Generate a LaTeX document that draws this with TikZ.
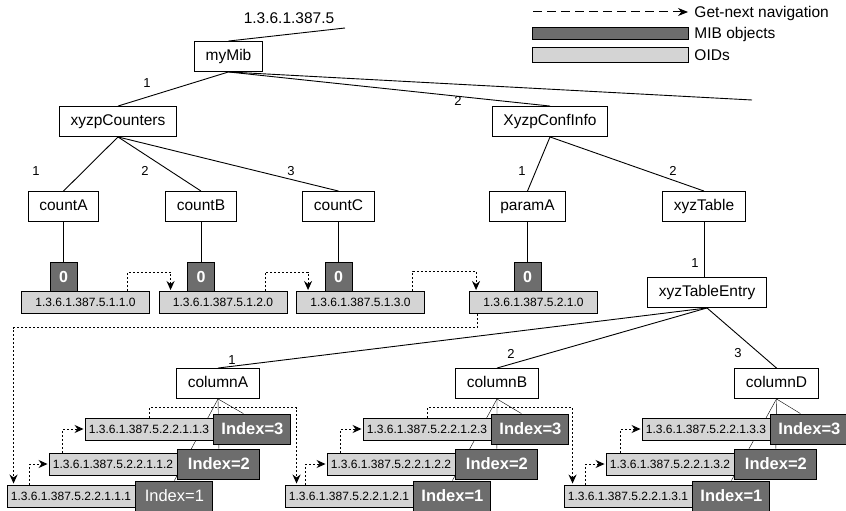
\documentclass[tikz,border=0pt]{standalone}
\usepackage{fontspec}
\setmainfont{Liberation Sans}
\usetikzlibrary{arrows.meta,backgrounds}
\definecolor{mibDark}{HTML}{6D6D6D}
\definecolor{oidLight}{HTML}{D4D4D4}

\begin{document}
\begin{tikzpicture}[x=1pt,y=-1pt,line width=0.9pt,
  tree/.style={draw,fill=white,inner xsep=11pt,minimum height=30pt,text height=11pt,text depth=3.5pt,font=\fontsize{15.5}{17}\selectfont},
  oid/.style={draw,fill=oidLight,minimum width=128pt,minimum height=22pt,inner sep=0pt,text height=8.6pt,text depth=0pt,font=\fontsize{12}{14}\selectfont},
  zero/.style={draw,fill=mibDark,text=white,minimum width=27pt,minimum height=29pt,inner sep=0pt,font=\fontsize{16}{18}\selectfont\bfseries},
  idx/.style={draw,fill=mibDark,text=white,minimum width=77pt,minimum height=30pt,inner sep=0pt,text height=11.8pt,text depth=0pt,font=\fontsize{16.5}{18}\selectfont\bfseries},
  lbl/.style={inner sep=0pt,font=\fontsize{13}{15}\selectfont},
  legtxt/.style={inner sep=0pt,anchor=base west,font=\fontsize{15.5}{17}\selectfont},
  nav/.style={line width=1pt,dash pattern=on 2pt off 2pt,shorten >=1pt,-{Stealth[length=9pt,width=8pt]}},
  legnav/.style={line width=1pt,dash pattern=on 9pt off 5pt,-{Stealth[length=10pt,width=8pt]}}]
\useasboundingbox (0,0) rectangle (846,511);

\coordinate (legA) at (533,12);
\coordinate (legB) at (688,12);
\draw[legnav] (legA) -- (legB);
\node[legtxt] (legNavTxt) at (694,17.5) {Get-next navigation};
\node[draw,fill=mibDark,minimum width=156pt,minimum height=12pt,inner sep=0pt] (legMib) at (610,33) {};
\node[legtxt] (legMibTxt) at (694,38.5) {MIB objects};
\node[draw,fill=oidLight,minimum width=156pt,minimum height=15pt,inner sep=0pt] (legOid) at (610,54.5) {};
\node[legtxt] (legOidTxt) at (694,61) {OIDs};

\node[tree] (myMib) at (228.5,56.5) {myMib};
\node[inner sep=0pt,font=\fontsize{15.5}{17}\selectfont] (rootOid) at (289,18) {1.3.6.1.387.5};
\coordinate (rootEnd) at (345,28);
\coordinate (moreEnd) at (752,100);
\node[tree] (xyzpCounters) at (118,121.5) {xyzpCounters};
\node[tree] (XyzpConfInfo) at (550,121.5) {XyzpConfInfo};
\node[tree] (countA) at (63.5,206.5) {countA};
\node[tree] (countB) at (201,206.5) {countB};
\node[tree] (countC) at (338.5,206.5) {countC};
\node[tree] (paramA) at (527.5,206.5) {paramA};
\node[tree] (xyzTable) at (704,206.5) {xyzTable};
\node[tree] (xyzTableEntry) at (707,292.5) {xyzTableEntry};
\node[tree] (columnA) at (218,383.5) {columnA};
\node[tree] (columnB) at (497,383.5) {columnB};
\node[tree] (columnD) at (776.5,383.5) {columnD};

\draw (myMib.north) -- (rootEnd);
\draw (myMib.south) -- (xyzpCounters.north);
\draw (myMib.south) -- (XyzpConfInfo.north);
\draw (myMib.south) -- (moreEnd);
\draw (xyzpCounters.south) -- (countA.north);
\draw (xyzpCounters.south) -- (countB.north);
\draw (xyzpCounters.south) -- (countC.north);
\draw (XyzpConfInfo.south) -- (paramA.north);
\draw (XyzpConfInfo.south) -- (xyzTable.north);
\draw (xyzTable.south) -- (xyzTable.south |- xyzTableEntry.north);
\draw (xyzTableEntry.south) -- (columnA.north);
\draw (xyzTableEntry.south) -- (columnB.north);
\draw (xyzTableEntry.south) -- (columnD.north);

\node[lbl] (l1) at (147,83) {1};
\node[lbl] (l2) at (458,101) {2};
\node[lbl] (lA) at (36,171) {1};
\node[lbl] (lB) at (145,171) {2};
\node[lbl] (lC) at (291,171) {3};
\node[lbl] (lP) at (522,171) {1};
\node[lbl] (lT) at (673,171) {2};
\node[lbl] (lE) at (695,263) {1};
\node[lbl] (lcA) at (232,360) {1};
\node[lbl] (lcB) at (511,354) {2};
\node[lbl] (lcD) at (738,353) {3};

\node[oid] (o0A) at (85.5,302.5) {1.3.6.1.387.5.1.1.0};
\node[oid] (o0B) at (223,302.5) {1.3.6.1.387.5.1.2.0};
\node[oid] (o0C) at (360.5,302.5) {1.3.6.1.387.5.1.3.0};
\node[oid] (o0P) at (533.5,302.5) {1.3.6.1.387.5.2.1.0};
\node[zero,anchor=south] (zA) at (63.5,292) {0};
\node[zero,anchor=south] (zB) at (201,292) {0};
\node[zero,anchor=south] (zC) at (338.5,292) {0};
\node[zero,anchor=south] (zP) at (527.5,292) {0};
\draw (countA.south) -- (zA.north);
\draw (countB.south) -- (zB.north);
\draw (countC.south) -- (zC.north);
\draw (paramA.south) -- (zP.north);

\node[oid] (oA3) at (149,429) {1.3.6.1.387.5.2.2.1.1.3};
\node[idx,anchor=west] (iA3) at (oA3.east) {Index=3};
\node[oid] (oA2) at (113,464) {1.3.6.1.387.5.2.2.1.1.2};
\node[idx,anchor=west,minimum width=82pt] (iA2) at (oA2.east) {Index=2};
\node[oid] (oA1) at (71,496) {1.3.6.1.387.5.2.2.1.1.1};
\node[idx,anchor=west,font=\fontsize{16.5}{18}\selectfont] (iA1) at (oA1.east) {Index=1};

\node[oid] (oB3) at (427,429) {1.3.6.1.387.5.2.2.1.2.3};
\node[idx,anchor=west] (iB3) at (oB3.east) {Index=3};
\node[oid] (oB2) at (391,464) {1.3.6.1.387.5.2.2.1.2.2};
\node[idx,anchor=west,minimum width=82pt] (iB2) at (oB2.east) {Index=2};
\node[oid] (oB1) at (349,496) {1.3.6.1.387.5.2.2.1.2.1};
\node[idx,anchor=west] (iB1) at (oB1.east) {Index=1};

\node[oid] (oD3) at (706,429) {1.3.6.1.387.5.2.2.1.3.3};
\node[idx,anchor=west] (iD3) at (oD3.east) {Index=3};
\node[oid] (oD2) at (670,464) {1.3.6.1.387.5.2.2.1.3.2};
\node[idx,anchor=west,minimum width=82pt] (iD2) at (oD2.east) {Index=2};
\node[oid] (oD1) at (628,496) {1.3.6.1.387.5.2.2.1.3.1};
\node[idx,anchor=west] (iD1) at (oD1.east) {Index=1};

\begin{pgfonlayer}{background}
\draw (columnA.south) -- ([xshift=-9pt]iA3.north);
\draw (columnA.south) -- (iA2.north);
\draw (columnA.south) -- (iA1.north);
\draw (columnB.south) -- ([xshift=-9pt]iB3.north);
\draw (columnB.south) -- (iB2.north);
\draw (columnB.south) -- (iB1.north);
\draw (columnD.south) -- ([xshift=-9pt]iD3.north);
\draw (columnD.south) -- (iD2.north);
\draw (columnD.south) -- (iD1.north);
\end{pgfonlayer}

\draw[nav] ([xshift=-22pt]o0A.north east) -- ++(0,-19) -| ([xshift=12pt]o0B.north west);
\draw[nav] ([xshift=-22pt]o0B.north east) -- ++(0,-19) -| ([xshift=12pt]o0C.north west);
\draw[nav] ([xshift=-12pt]o0C.north east) -- ++(0,-20) -| ([xshift=7pt]o0P.north west);
\draw[nav] ([xshift=8pt]o0P.south west) -- ++(0,14) -| ([xshift=7pt]oA1.north west);
\draw[nav] ([xshift=23pt]oA1.north west) |- (oA2.west);
\draw[nav] ([xshift=14pt]oA2.north west) |- (oA3.west);
\draw[nav] (oA3.north) -- ++(0,-10) -| ([xshift=12pt]oB1.north west);
\draw[nav] ([xshift=21pt]oB1.north west) |- (oB2.west);
\draw[nav] ([xshift=14pt]oB2.north west) |- (oB3.west);
\draw[nav] (oB3.north) -- ++(0,-10) -| ([xshift=9pt]oD1.north west);
\draw[nav] ([xshift=22pt]oD1.north west) |- (oD2.west);
\draw[nav] ([xshift=15pt]oD2.north west) |- (oD3.west);
\end{tikzpicture}
\end{document}
